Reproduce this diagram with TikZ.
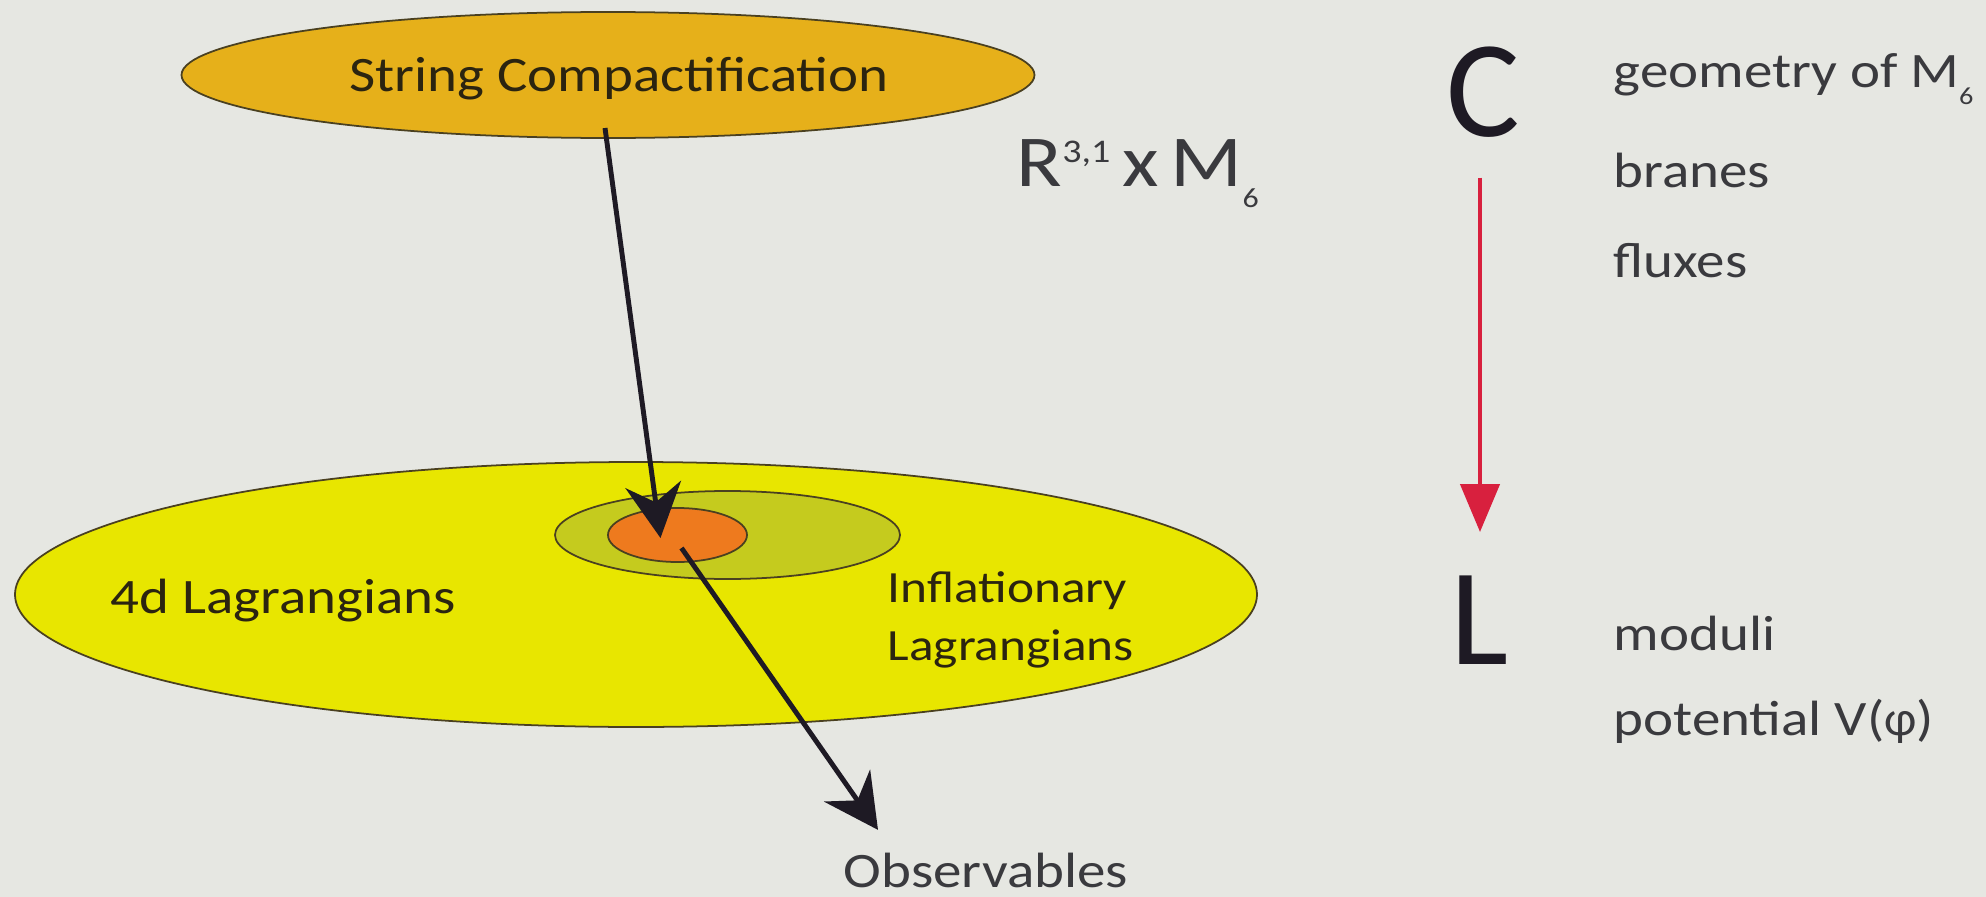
\documentclass[tikz,border=0pt]{standalone}
\usepackage{fontspec}
\setmainfont{Carlito}[FakeStretch=1.15]
\newfontfamily\bigfont{Carlito}
\newfontfamily\plainfont{Carlito}
\usetikzlibrary{shapes.geometric, arrows.meta, calc}
\definecolor{bg}{HTML}{E6E7E2}
\definecolor{scfill}{HTML}{E6B01A}
\definecolor{yfill}{HTML}{E8E600}
\definecolor{gfill}{HTML}{C5CB1E}
\definecolor{ofill}{HTML}{EE7A1E}
\definecolor{edge}{HTML}{4A4020}
\definecolor{txtin}{HTML}{2B2410}
\definecolor{txtout}{HTML}{3A3A3E}
\definecolor{arrowc}{HTML}{1E1A24}
\definecolor{redc}{HTML}{D8203E}
\begin{document}
\begin{tikzpicture}[x=0.1mm, y=-0.1mm,
  ell/.style={ellipse, draw=edge, line width=0.5pt, inner sep=0pt},
  body/.style={font=\fontsize{14.1pt}{17pt}\selectfont, inner sep=0pt, text=txtout},
  inbody/.style={body, text=txtin},
  smallin/.style={inbody, font=\fontsize{12.7pt}{15pt}\selectfont},
  big/.style={font=\bigfont\fontsize{39.3pt}{40pt}\selectfont, inner sep=0pt, text=arrowc},
  blk/.style={line width=1.4pt, draw=arrowc, -{Stealth[length=5.4mm, width=5.6mm, inset=1.8mm]}},
  redarr/.style={line width=1.3pt, draw=redc, -{Triangle[length=4.8mm, width=3.9mm, fill=redc]}}]
\fill[bg] (0,0) rectangle (1986,897);
\useasboundingbox (0,0) rectangle (1986,897);

% ellipses
\node[ell, fill=scfill, minimum width=85.3mm, minimum height=12.6mm] (sc) at (608,75) {};
\node[ell, fill=yfill, minimum width=124.2mm, minimum height=26.5mm] (lag) at (636,594.5) {};
\node[ell, fill=gfill, minimum width=34.5mm, minimum height=8.8mm] (infl) at (727.5,535) {};
\node[ell, fill=ofill, minimum width=13.9mm, minimum height=5.4mm] (obsreg) at (677.5,535) {};

% texts
\node[inbody, anchor=base] (sctext) at (619,92) {String Compactification};
\node[inbody, anchor=base west] (lagtext) at (110,613) {4d Lagrangians};
\node[smallin, anchor=base west] (infltext1) at (887,602) {Inflationary};
\node[smallin, anchor=base west] (infltext2) at (887,660) {Lagrangians};
\node[body, anchor=base west] (obs) at (843,887) {Observables};

\node[body, anchor=base west, font=\fontsize{20.8pt}{22pt}\selectfont] (rm) at (1016,186)
  {R\raisebox{2.4mm}{\fontsize{9.4pt}{10pt}\selectfont 3,1}\hspace{1.2mm}x\hspace{1.2mm}M\raisebox{-2.1mm}{\fontsize{7.9pt}{9pt}\selectfont 6}};

\node[big, anchor=base west] (C) at (1446,136) {C};
\node[big, anchor=base west] (L) at (1450,664) {L};

\node[body, anchor=base west] (geo) at (1613,88) {geometry of M\raisebox{-1.7mm}{\fontsize{7pt}{8pt}\selectfont 6}};
\node[body, anchor=base west] (br) at (1613,187) {branes};
\node[body, anchor=base west] (fl) at (1613,277) {fluxes};
\node[body, anchor=base west] (mo) at (1613,650) {moduli};
\node[body, anchor=base west] (po) at (1613,735) {potential V({\plainfont φ})};

% connectors
\coordinate (a1s) at ($(sc.center)+(-3,53)$);
\coordinate (a1e) at ($(obsreg.center)+(-17,3)$);
\draw[blk] (a1s) -- (a1e);
\coordinate (a2s) at ($(obsreg.center)+(4,13)$);
\coordinate (a2e) at ($(obs.north west)+(35,-22)$);
\draw[blk] (a2s) -- (a2e);
\coordinate (r1) at ($(C.south)+(0,40)$);
\coordinate (r2) at (1480,532);
\draw[redarr] (r1 -| r2) -- (r2);
\end{tikzpicture}
\end{document}
